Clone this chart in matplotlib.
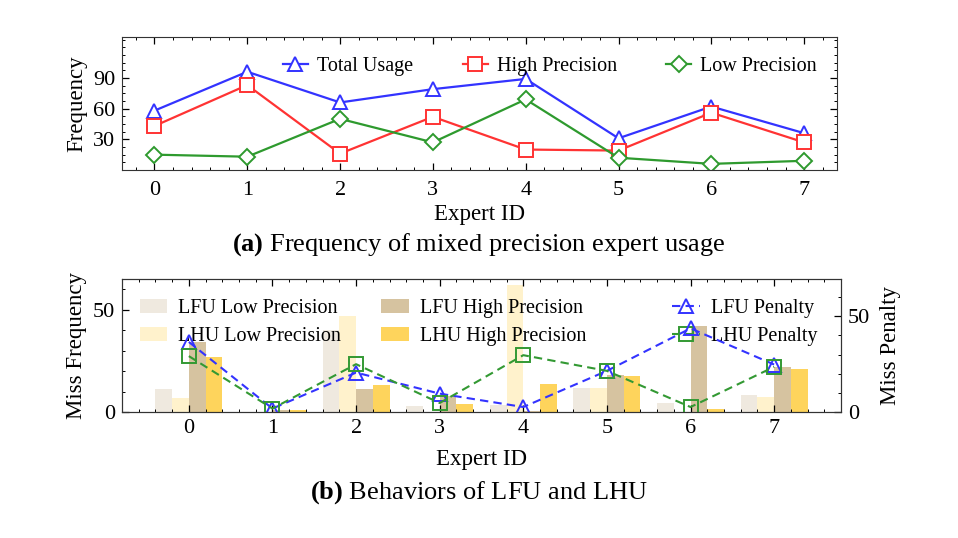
import matplotlib
matplotlib.use("Agg")
import matplotlib.pyplot as plt
from matplotlib.ticker import MultipleLocator

plt.rcParams["font.family"] = ["Liberation Serif", "DejaVu Serif"]
plt.rcParams["mathtext.fontset"] = "custom"
plt.rcParams["mathtext.rm"] = "Liberation Serif"
plt.rcParams["mathtext.bf"] = "Liberation Serif:bold"
plt.rcParams["xtick.direction"] = "in"
plt.rcParams["ytick.direction"] = "in"
plt.rcParams["axes.edgecolor"] = "#333333"

experts = [0, 1, 2, 3, 4, 5, 6, 7]

# (a) usage
total_usage = [58, 96, 66, 79, 89, 31, 62, 36]
high_prec = [43, 83, 16, 52, 20, 19, 56, 27]
low_prec = [15, 13, 50, 27, 69, 12, 6, 9]

# (b) miss frequency bars
lfu_low = [11, 0, 40, 3, 3.5, 11.5, 4.5, 8.5]
lhu_low = [7, 0, 47, 0, 62, 11.5, 0, 7.5]
lfu_high = [34, 1, 11, 8, 0.5, 18, 42, 22]
lhu_high = [27, 1, 13, 4, 13.5, 17.5, 1.5, 21]

# (b) miss penalty lines
lfu_penalty = [36.6, 1.8, 20.6, 9.6, 2.6, 21.5, 43.7, 24.8]
lhu_penalty = [29.2, 1.8, 25.0, 4.7, 29.7, 21.5, 2.6, 23.6]

TICK_FS = 16
LABEL_FS = 16.5
LEG_FS = 14.5
CAP_FS = 19

fig = plt.figure(figsize=(9.58, 5.38), dpi=100)

def style_ticks(ax):
    ax.tick_params(which="major", length=5, width=0.9, labelsize=TICK_FS, pad=5)
    ax.tick_params(which="minor", length=2.5, width=0.7)

# ---- top panel
ax = fig.add_axes([0.1273, 0.6840, 0.7460, 0.2473])
ax.plot(experts, total_usage, color="#3333ff", marker="^", ms=9.5, mfc="white",
        mew=1.4, lw=1.6, label="Total Usage")
ax.plot(experts, high_prec, color="#ff3333", marker="s", ms=9.5, mfc="white",
        mew=1.4, lw=1.6, label="High Precision")
ax.plot(experts, low_prec, color="#2e9a2e", marker="D", ms=8.5, mfc="white",
        mew=1.4, lw=1.6, label="Low Precision")
ax.set_xlim(-0.35, 7.35)
ax.set_ylim(0, 130)
ax.set_xticks(experts)
ax.set_yticks([30, 60, 90])
ax.xaxis.set_minor_locator(MultipleLocator(0.2))
ax.yaxis.set_minor_locator(MultipleLocator(7.5))
ax.tick_params(which="both", top=True, right=True)
style_ticks(ax)
ax.tick_params(axis="x", which="major", pad=8)
ax.set_xlabel("Expert ID", fontsize=LABEL_FS, labelpad=3)
ax.set_ylabel("Frequency", fontsize=LABEL_FS, labelpad=4)
ax.legend(loc="upper right", ncol=3, frameon=False, fontsize=LEG_FS,
          handlelength=1.25, handletextpad=0.45, columnspacing=2.45,
          bbox_to_anchor=(0.998, 0.985))
fig.text(0.5, 0.545, r"$\bf{(a)}$ Frequency of mixed precision expert usage",
         ha="center", va="center", fontsize=CAP_FS)

# ---- bottom panel
ax1 = fig.add_axes([0.1273, 0.2342, 0.7506, 0.2472])
w = 0.2
x = list(experts)
ax1.bar([i - 0.3 for i in x], lfu_low, w, color="#efe9df", label="LFU Low Precision")
ax1.bar([i - 0.1 for i in x], lhu_low, w, color="#fff2cc", label="LHU Low Precision")
ax1.bar([i + 0.1 for i in x], lfu_high, w, color="#d6c3a0", label="LFU High Precision")
ax1.bar([i + 0.3 for i in x], lhu_high, w, color="#fed45c", label="LHU High Precision")
ax1.set_xlim(-0.8, 7.8)
ax1.set_ylim(0, 65)
ax1.set_xticks(experts)
ax1.set_yticks([0, 50])
ax1.xaxis.set_minor_locator(MultipleLocator(0.2))
ax1.yaxis.set_minor_locator(MultipleLocator(10))
ax1.tick_params(which="both", top=True, right=False)
style_ticks(ax1)
ax1.set_xlabel("Expert ID", fontsize=LABEL_FS, labelpad=8)
ax1.set_ylabel("Miss Frequency", fontsize=LABEL_FS, labelpad=4)

ax2 = ax1.twinx()
ax2.plot(experts, lfu_penalty, color="#3333ff", ls="--", dashes=(4, 2.5), marker="^",
         ms=9.5, mfc="none", mew=1.4, lw=1.5, label="LFU Penalty")
ax2.plot(experts, lhu_penalty, color="#339933", ls="--", dashes=(4, 2.5), marker="s",
         ms=9.5, mfc="none", mew=1.4, lw=1.5, label="LHU Penalty")
ax2.set_ylim(0, 69.5)
ax2.set_yticks([0, 50])
ax2.yaxis.set_minor_locator(MultipleLocator(10))
style_ticks(ax2)
ax2.set_ylabel("Miss Penalty", fontsize=LABEL_FS, labelpad=7)

h1, l1 = ax1.get_legend_handles_labels()
h2, l2 = ax2.get_legend_handles_labels()
leg_bars = ax1.legend(h1, l1, loc="upper left", ncol=2, frameon=False,
                      fontsize=LEG_FS, handlelength=1.35, handletextpad=0.55,
                      columnspacing=2.0, labelspacing=0.45,
                      bbox_to_anchor=(0.0, 0.985))
ax1.add_artist(leg_bars)
ax1.legend(h2, l2, loc="upper right", frameon=False, fontsize=LEG_FS,
           handlelength=1.35, handletextpad=0.55, labelspacing=0.45,
           bbox_to_anchor=(0.992, 0.985))
fig.text(0.5, 0.084, r"$\bf{(b)}$ Behaviors of LFU and LHU",
         ha="center", va="center", fontsize=CAP_FS)

fig.savefig("out.png", dpi=100)
